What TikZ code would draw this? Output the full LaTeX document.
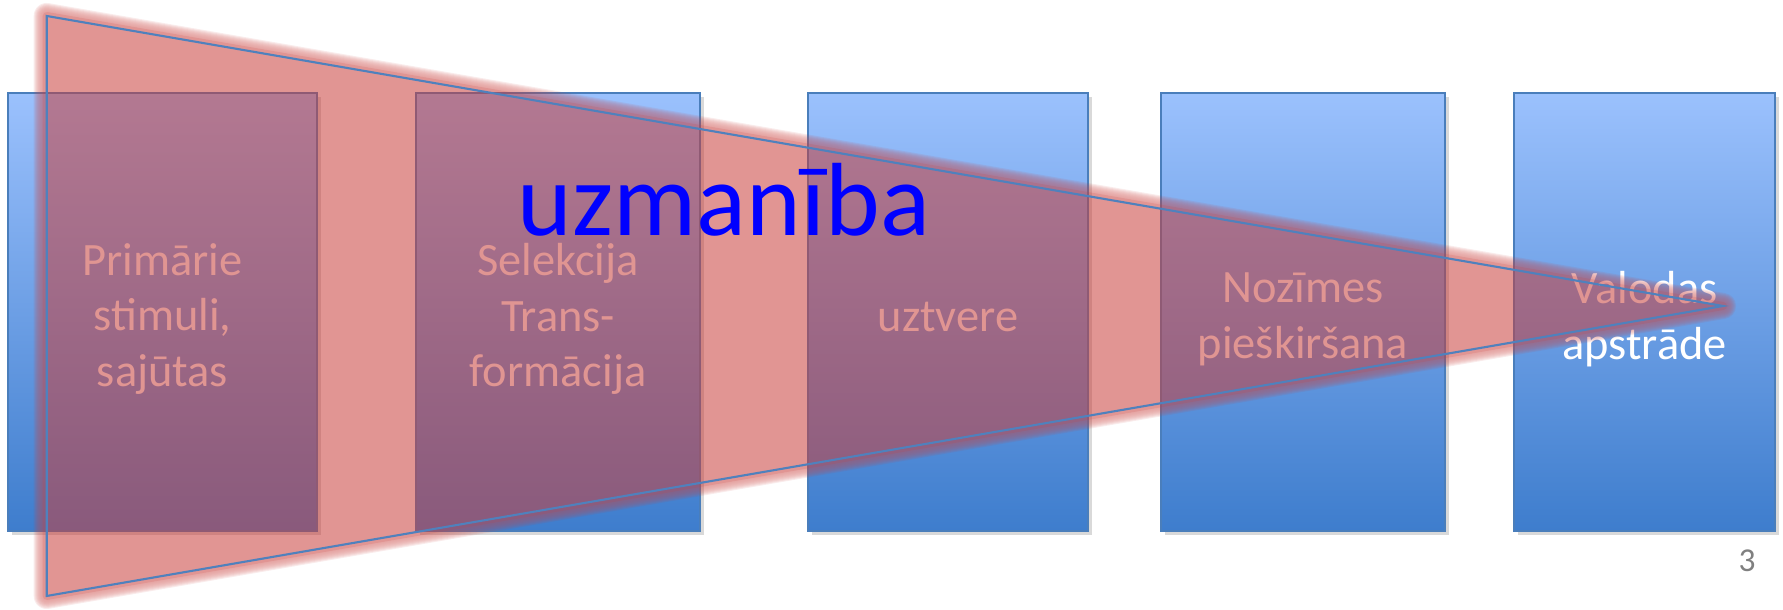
\documentclass[tikz,border=0pt]{standalone}
\usepackage{fontspec}
\setmainfont{Carlito}
\usepackage{xcolor}
\usepackage{tikz}
\usetikzlibrary{positioning,shadows}

\definecolor{boxtop}{RGB}{155,193,253}
\definecolor{boxbot}{RGB}{62,125,205}
\definecolor{boxline}{RGB}{74,126,187}
\definecolor{funnelred}{RGB}{200,62,58}
\definecolor{funnelline}{RGB}{79,129,189}

\begin{document}
\begin{tikzpicture}[
		stage/.style={draw=boxline, line width=0.5pt, top color=boxtop, bottom color=boxbot,
			minimum height=4.38cm, inner sep=0pt,
			drop shadow={shadow xshift=0.04cm, shadow yshift=-0.04cm, opacity=0.3}},
		stagetext/.style={align=center, text=white, inner sep=0pt,
			font=\fontsize{13.2}{15.9}\selectfont},
		glow/.style={funnelred, line join=round}]
		
		\useasboundingbox (0,0) rectangle (17.83,6.10);
		
		% stages
		\node[stage, minimum width=3.09cm] (prim) at (1.625,2.98) {};
		\node[stage, minimum width=2.84cm] (sel) at (5.58,2.98) {};
		\node[stage, minimum width=2.80cm] (uzt) at (9.48,2.98) {};
		\node[stage, minimum width=2.84cm] (noz) at (13.03,2.98) {};
		\node[stage, minimum width=2.61cm] (val) at (16.445,2.98) {};
		
		\node[stagetext] (primtxt) at ([yshift=-0.07cm]prim.center) {Primārie\\stimuli,\\sajūtas};
		\node[stagetext] (seltxt) at ([yshift=-0.07cm]sel.center) {Selekcija\\Trans-\\formācija};
		\node[stagetext] (uzttxt) at ([yshift=-0.05cm]uzt.center) {uztvere};
		\node[stagetext] (noztxt) at ([yshift=-0.07cm]noz.center) {Nozīmes\\pieškiršana};
		\node[stagetext] (valtxt) at ([yshift=-0.07cm]val.center) {Valodas\\apstrāde};
		
		% funnel
		\coordinate (ftop) at (0.467,5.94);
		\coordinate (fbot) at (0.467,0.14);
		\coordinate (ftip) at (17.23,3.04);
		
		\begin{scope}[transparency group, opacity=0.55]
			\foreach \w in {0.26,0.24,...,0.08}
			\draw[glow, line width=\w cm, opacity=0.18] (ftop) -- (ftip) -- (fbot) -- cycle;
			\filldraw[glow, line width=0.08cm] (ftop) -- (ftip) -- (fbot) -- cycle;
		\end{scope}
		\draw[funnelline, line width=0.6pt] (ftop) -- (ftip) -- (fbot) -- cycle;
		
		\node[text=blue, font=\fontsize{29.6}{35}\selectfont, anchor=base] (attn) at (7.24,3.74) {uzmanība};
		
		\node[text=gray, font=\fontsize{9.5}{11}\selectfont] (pagenum) at (17.47,0.49) {3};
	\end{tikzpicture}
\end{document}
